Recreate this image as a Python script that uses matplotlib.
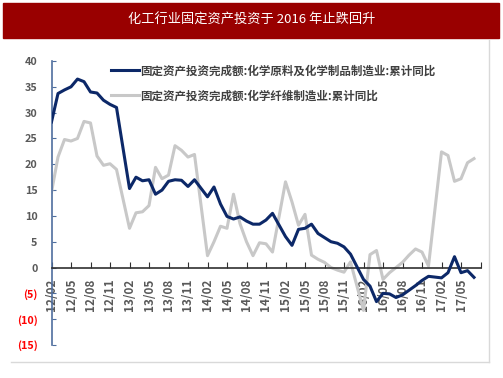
import matplotlib
matplotlib.use("Agg")
import matplotlib.pyplot as plt
from matplotlib.lines import Line2D
import numpy as np

plt.rcParams['font.family'] = ['Noto Sans CJK SC', 'DejaVu Sans']

title = "化工行业固定资产投资于 2016 年止跌回升"
name_raw = "固定资产投资完成额:化学原料及化学制品制造业:累计同比"
name_fiber = "固定资产投资完成额:化学纤维制造业:累计同比"

# months with data (no January figures)
months = ([f"{y}/{m:02d}" for y in range(12, 17) for m in range(2, 13)]
          + [f"17/{m:02d}" for m in range(2, 8)])

raw = [28.2, 33.7, 34.4, 35.0, 36.5, 36.0, 34.0, 33.8, 32.4, 31.6, 31.0,
       15.3, 17.5, 16.8, 17.0, 14.2, 15.0, 16.7, 17.0, 16.9, 15.7, 17.0,
       13.7, 15.6, 12.3, 9.9, 9.4, 9.8, 9.0, 8.4, 8.4, 9.2, 10.5,
       6.0, 4.3, 7.4, 7.6, 8.4, 6.6, 5.8, 5.0, 4.7, 4.0, 2.6,
       -2.3, -3.6, -6.6, -5.0, -5.1, -5.8, -5.3, -4.4, -3.5, -2.5, -1.7,
       -2.0, -1.0, 2.1, -1.0, -0.6, -1.9]

fiber = [14.6, 21.4, 24.8, 24.5, 25.0, 28.3, 28.0, 21.6, 19.8, 20.1, 19.0,
         7.6, 10.6, 10.8, 12.0, 19.4, 17.2, 17.9, 23.6, 22.7, 21.4, 21.9,
         2.3, 5.0, 8.0, 7.6, 14.2, 8.5, 5.0, 2.3, 4.8, 4.6, 3.0,
         16.6, 12.7, 8.2, 10.3, 2.4, 1.6, 1.0, 0.0, -0.5, -0.9, 1.1,
         -8.3, 2.5, 3.3, -2.3, -1.0, 0.0, 1.0, 2.4, 3.6, 3.0, 0.3,
         22.4, 21.7, 16.7, 17.2, 20.3, 21.1]

tick_labels = [f"{y}/{m:02d}" for y in range(12, 18) for m in (2, 5, 8, 11)][:22]
y_ticks = list(range(-15, 41, 5))


def month_pos(label):
    yy, mm = label.split("/")
    return (int(yy) - 12) * 12 + int(mm) - 2


x = [month_pos(m) for m in months]

fig = plt.figure(figsize=(5.03, 3.78), dpi=100)

# title banner
fig.patches.append(plt.Rectangle((3 / 503, 1 - 38 / 378), 496 / 503, 35 / 378,
                                 transform=fig.transFigure, color='#990000'))
fig.text(0.5, 1 - 20 / 378, title, color='white', fontsize=9.5,
         ha='center', va='center')

# chart frame (right and bottom edges)
fig.add_artist(Line2D([489 / 503, 489 / 503], [1 - 40 / 378, 1 - 362 / 378],
                      transform=fig.transFigure, color='#D9D9D9', lw=1))
fig.add_artist(Line2D([11 / 503, 489 / 503], [1 - 362 / 378, 1 - 362 / 378],
                      transform=fig.transFigure, color='#D9D9D9', lw=1))

ax = fig.add_axes([51.5 / 503, 33 / 378, 429 / 503, 284 / 378])
ax.plot(x, fiber, color='#C8C8C8', lw=2.2, label=name_fiber, zorder=2)
ax.plot(x, raw, color='#0C2868', lw=2.2, label=name_raw, zorder=3)

ax.set_xlim(0, 66)
ax.set_ylim(-15, 40)

for s in ('top', 'right'):
    ax.spines[s].set_visible(False)
ax.spines['left'].set_color('#4F6E9E')
ax.spines['left'].set_linewidth(1.2)
ax.spines['bottom'].set_position(('data', 0))
ax.spines['bottom'].set_color('#303030')
ax.spines['bottom'].set_linewidth(1.2)

ax.set_yticks(y_ticks)
ax.set_yticklabels([str(v) if v >= 0 else f"({-v})" for v in y_ticks])
ax.tick_params(axis='y', direction='in', length=3, color='#4F6E9E',
               pad=10, labelsize=7.8, labelcolor='#595959')
for lab, v in zip(ax.get_yticklabels(), y_ticks):
    lab.set_fontweight('bold')
    if v < 0:
        lab.set_color('#FF0000')

ax.set_xticks(range(0, 67, 3))
ax.set_xticklabels(tick_labels + [""], rotation=90)
ax.tick_params(axis='x', direction='in', length=4, color='#303030',
               pad=8, labelsize=8.5, labelcolor='#595959')
for lab in ax.get_xticklabels():
    lab.set_fontweight('bold')
    lab.set_va('top')

handles, labels = ax.get_legend_handles_labels()
leg = ax.legend(handles[::-1], labels[::-1], loc='upper left',
                bbox_to_anchor=(0.115, 1.025), frameon=False, fontsize=8.3,
                handlelength=2.4, handletextpad=0.15, labelspacing=1.05)
for t in leg.get_texts():
    t.set_color('#404040')
    t.set_fontweight('bold')

fig.savefig("out.png", dpi=100)
